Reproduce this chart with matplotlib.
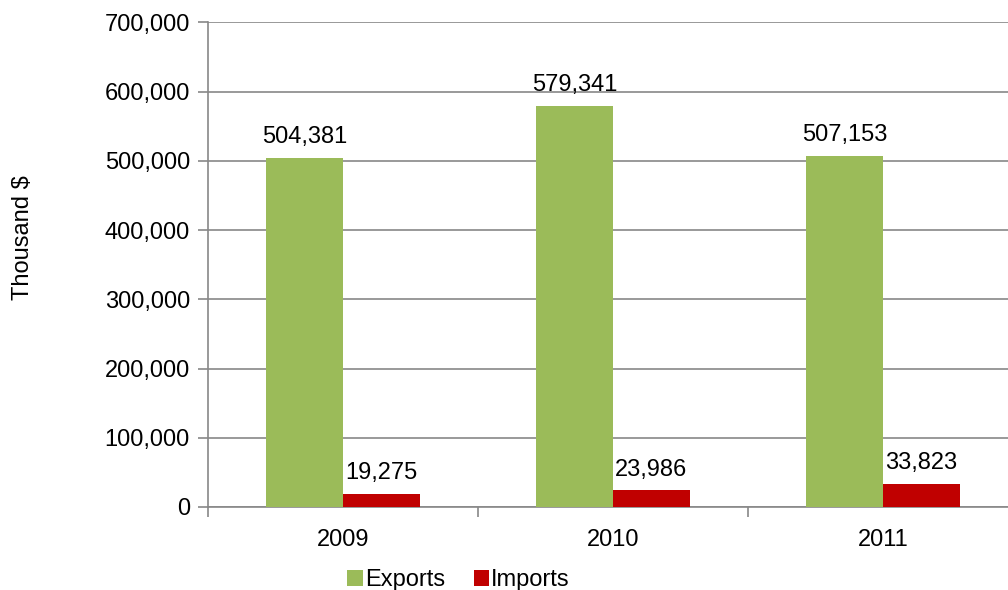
import matplotlib
matplotlib.use("Agg")
import matplotlib.pyplot as plt
from matplotlib.ticker import FuncFormatter
import numpy as np

years = ["2009", "2010", "2011"]
exports = [504381, 579341, 507153]
imports = [19275, 23986, 33823]

plt.rcParams["font.family"] = ["Liberation Sans", "DejaVu Sans"]
FS = 17
GREEN = "#9BBB59"
RED = "#C00000"
GRID = "#888888"

fig = plt.figure(figsize=(10.08, 5.90), dpi=100)
ax = fig.add_axes([0.2063, 0.1407, 0.8036, 0.8212])

x = np.arange(len(years))
w = 0.285
b1 = ax.bar(x - w / 2, exports, width=w, color=GREEN, zorder=3)
b2 = ax.bar(x + w / 2, imports, width=w, color=RED, zorder=3)

for rects, vals in ((b1, exports), (b2, imports)):
    for r, v in zip(rects, vals):
        ax.annotate(f"{v:,}", (r.get_x() + r.get_width() / 2, v),
                    xytext=(0, 7), textcoords="offset points",
                    ha="center", va="bottom", fontsize=FS, color="black")

ax.set_xlim(-0.5, len(years) - 0.5)
ax.set_ylim(0, 700000)
ax.set_yticks(np.arange(0, 700001, 100000))
ax.yaxis.set_major_formatter(FuncFormatter(lambda v, p: f"{int(v):,}"))
ax.grid(axis="y", color=GRID, linewidth=1.2, zorder=0)

ax.set_xticks(x)
ax.set_xticklabels(years)
ax.set_xticks(np.arange(-0.5, len(years)), minor=True)
ax.tick_params(axis="x", which="major", length=0, pad=16, labelsize=FS)
ax.tick_params(axis="x", which="minor", length=7, width=1.2, color=GRID, direction="out")
ax.tick_params(axis="y", length=7, width=1.2, color=GRID, direction="out", pad=6, labelsize=FS)

for side in ("top", "right"):
    ax.spines[side].set_visible(False)
for side in ("left", "bottom"):
    ax.spines[side].set_color(GRID)
    ax.spines[side].set_linewidth(1.2)

fig.text(0.023, 1 - 238 / 590, "Thousand $", rotation=90, ha="center", va="center", fontsize=FS)

leg = fig.legend([b1, b2], ["Exports", "Imports"], loc="center",
                 bbox_to_anchor=(0.455, 1 - 580 / 590), ncol=2, frameon=False,
                 fontsize=FS, handlelength=0.65, handleheight=0.65,
                 handletextpad=0.1, columnspacing=1.2)

fig.savefig("out.png", dpi=100)
